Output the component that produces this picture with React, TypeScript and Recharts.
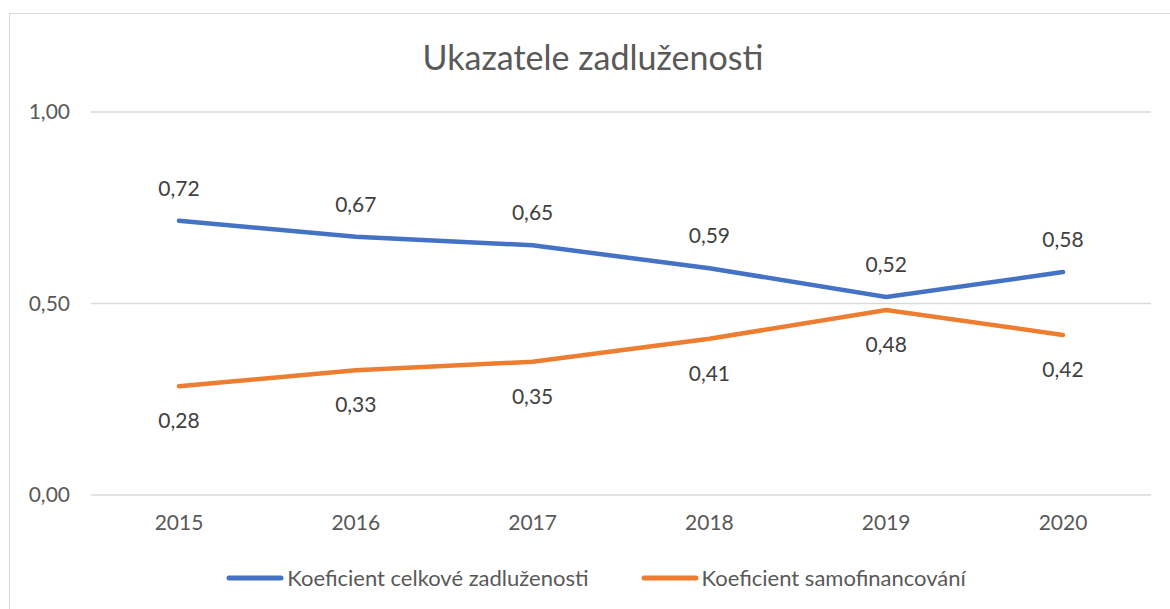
import { LineChart, Line, XAxis, YAxis, CartesianGrid, Legend, LabelList } from "recharts";

const years = ["2015", "2016", "2017", "2018", "2019", "2020"];
const celkove = [0.716, 0.674, 0.652, 0.592, 0.517, 0.582];
const samofin = [0.284, 0.326, 0.348, 0.408, 0.483, 0.418];
const yTicks = [0, 0.5, 1];

const seriesNames = ["Koeficient celkové zadluženosti", "Koeficient samofinancování"];
const colors = ["#4472C4", "#ED7D31"];

const data = years.map((y, i) => ({ year: y, celkove: celkove[i], samofin: samofin[i] }));

const FONT = "Lato, 'Noto Sans', sans-serif";
const TEXT = "#595959";

const fmt = (v: any) => Number(v).toFixed(2).replace(".", ",");

function LegendContent() {
  return (
    <div style={{ display: "flex", justifyContent: "center", alignItems: "center", paddingLeft: 22, fontFamily: FONT, fontSize: 22, color: TEXT }}>
      {seriesNames.map((name, i) => (
        <div key={name} style={{ display: "flex", alignItems: "center", marginRight: i === 0 ? 52 : 0 }}>
          <svg width={58} height={8} style={{ marginRight: 3 }}>
            <line x1={3} y1={4} x2={55} y2={4} stroke={colors[i]} strokeWidth={5} strokeLinecap="round" />
          </svg>
          <span>{name}</span>
        </div>
      ))}
    </div>
  );
}

export default function App() {
  return (
    <div style={{ position: "fixed", left: 0, top: 0, width: 1170, height: 609, overflow: "hidden", background: "#fff" }}>
      <div style={{ position: "absolute", left: 9, top: 13, width: 1200, height: 640, border: "1px solid #d9d9d9", boxSizing: "border-box" }} />
      <div style={{ position: "absolute", left: 0, width: 1186, top: 36, textAlign: "center", fontFamily: FONT, fontSize: 34, color: TEXT, lineHeight: "42px" }}>
        Ukazatele zadluženosti
      </div>
      <div style={{ position: "absolute", left: 0, top: 0 }}>
        <LineChart width={1170} height={609} data={data} margin={{ top: 112, right: 19, left: 10, bottom: 74 }}>
          <CartesianGrid vertical={false} stroke="#d9d9d9" strokeWidth={1.5} />
          <XAxis
            dataKey="year"
            axisLine={false}
            tickLine={false}
            height={40}
            padding={{ left: 88, right: 88 }}
            tick={{ fill: TEXT, fontSize: 21, fontFamily: FONT }}
            tickMargin={14}
          />
          <YAxis
            domain={[0, 1]}
            ticks={yTicks}
            width={81}
            axisLine={false}
            tickLine={false}
            tickFormatter={fmt}
            tick={{ fill: TEXT, fontSize: 21, fontFamily: FONT }}
            tickMargin={15}
          />
          <Legend layout="horizontal" verticalAlign="middle" align="center" wrapperStyle={{ top: 564, left: 0, width: 1170 }} content={<LegendContent />} />
          <Line dataKey="celkove" name={seriesNames[0]} stroke={colors[0]} strokeWidth={4.5} dot={false} strokeLinecap="round" isAnimationActive={false}>
            <LabelList dataKey="celkove" position="top" offset={25} formatter={fmt} style={{ fill: "#404040", fontSize: 21, fontFamily: FONT }} />
          </Line>
          <Line dataKey="samofin" name={seriesNames[1]} stroke={colors[1]} strokeWidth={4.5} dot={false} strokeLinecap="round" isAnimationActive={false}>
            <LabelList dataKey="samofin" position="bottom" offset={27} formatter={fmt} style={{ fill: "#404040", fontSize: 21, fontFamily: FONT }} />
          </Line>
        </LineChart>
      </div>
    </div>
  );
}
